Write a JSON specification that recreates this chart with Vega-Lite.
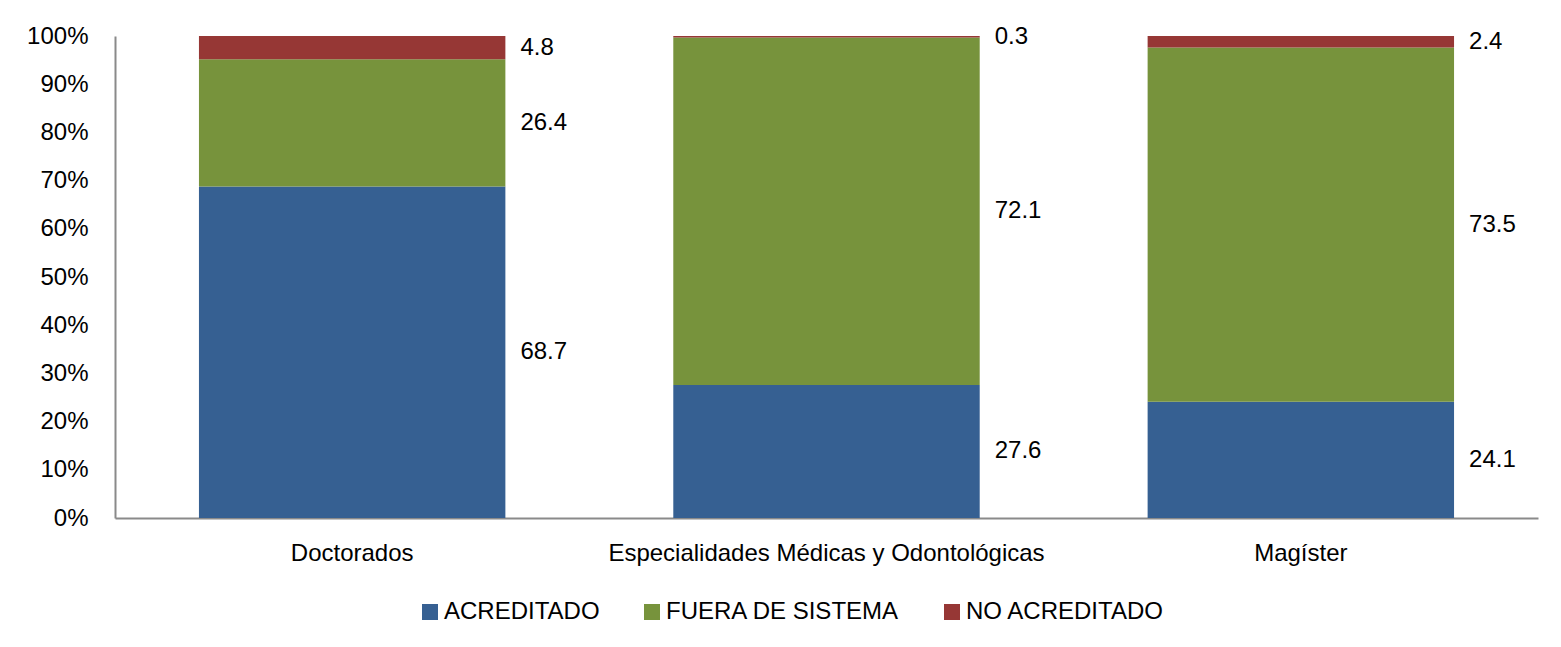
{
  "$schema": "https://vega.github.io/schema/vega-lite/v6.json",
  "width": 1423,
  "height": 482,
  "autosize": {"type": "none"},
  "padding": {"left": 115, "top": 36, "right": 23, "bottom": 129},
  "background": "white",
  "config": {
    "view": {"stroke": null},
    "font": "Liberation Sans",
    "axis": {"labelFont": "Liberation Sans", "labelColor": "black", "labelFontSize": 24, "domainColor": "#8a8a8a", "domainWidth": 2, "ticks": false, "grid": false, "title": null, "labelLimit": 0, "labelOverlap": false},
    "legend": {"labelFont": "Liberation Sans", "labelColor": "black", "labelLimit": 0}
  },
  "data": {
    "values": [
      {"cat": "Doctorados", "estado": "ACREDITADO", "valor": 68.7},
      {"cat": "Doctorados", "estado": "FUERA DE SISTEMA", "valor": 26.4},
      {"cat": "Doctorados", "estado": "NO ACREDITADO", "valor": 4.8},
      {"cat": "Especialidades Médicas y Odontológicas", "estado": "ACREDITADO", "valor": 27.6},
      {"cat": "Especialidades Médicas y Odontológicas", "estado": "FUERA DE SISTEMA", "valor": 72.1},
      {"cat": "Especialidades Médicas y Odontológicas", "estado": "NO ACREDITADO", "valor": 0.3},
      {"cat": "Magíster", "estado": "ACREDITADO", "valor": 24.1},
      {"cat": "Magíster", "estado": "FUERA DE SISTEMA", "valor": 73.5},
      {"cat": "Magíster", "estado": "NO ACREDITADO", "valor": 2.4}
    ]
  },
  "transform": [
    {"stack": "valor", "groupby": ["cat"], "sort": [{"field": "estado", "order": "ascending"}], "as": ["v0", "v1"], "offset": "normalize"},
    {"calculate": "(datum.v0 + datum.v1) / 2", "as": "mid"}
  ],
  "encoding": {
    "x": {"field": "cat", "type": "nominal", "sort": null,
      "scale": {"paddingInner": 0.354, "paddingOuter": 0.177},
      "axis": {"labelAngle": 0, "labelPadding": 23, "domain": true}}
  },
  "layer": [
    {
      "mark": {"type": "bar"},
      "encoding": {
        "y": {"field": "v0", "type": "quantitative", "scale": {"domain": [0, 1]},
          "axis": {"format": ".0%", "values": [0,0.1,0.2,0.3,0.4,0.5,0.6,0.7,0.8,0.9,1], "labelPadding": 27}},
        "y2": {"field": "v1"},
        "color": {"field": "estado", "type": "nominal",
          "scale": {"domain": ["ACREDITADO", "FUERA DE SISTEMA", "NO ACREDITADO"], "range": ["#366092", "#77933C", "#963735"]},
          "legend": {"orient": "none", "legendX": 303, "legendY": 564, "direction": "horizontal", "title": null,
            "symbolType": "square", "symbolSize": 256, "symbolStrokeWidth": 0, "labelFontSize": 24, "labelOffset": 2, "columnPadding": 40}}
      }
    },
    {
      "mark": {"type": "text", "align": "left", "baseline": "middle", "dx": 15, "fontSize": 24, "color": "black"},
      "encoding": {
        "x": {"field": "cat", "type": "nominal", "sort": null, "bandPosition": 1},
        "y": {"field": "mid", "type": "quantitative"},
        "text": {"field": "valor", "type": "quantitative", "format": ".1f"}
      }
    }
  ]
}
